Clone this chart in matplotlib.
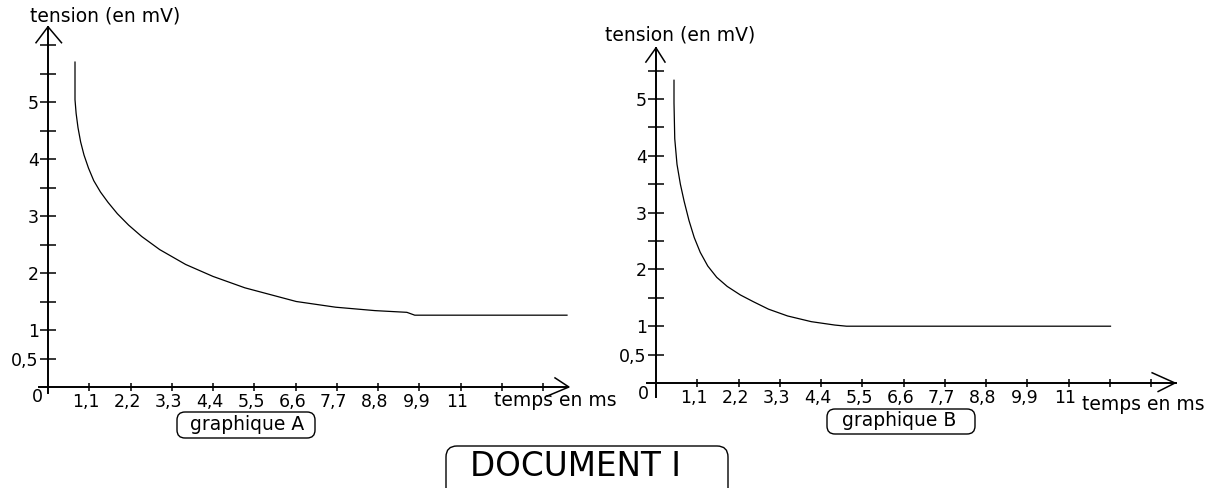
import matplotlib
matplotlib.use("Agg")
import matplotlib.pyplot as plt
from matplotlib.patches import FancyBboxPatch
from matplotlib.transforms import ScaledTranslation

temps_A = [0.72, 0.72, 0.75, 0.80, 0.87, 0.96, 1.08, 1.22, 1.40, 1.60, 1.85, 2.15,
           2.50, 2.98, 3.67, 4.40, 5.25, 6.62, 7.67, 8.72, 9.57, 9.78, 13.84]
tension_A = [5.70, 5.04, 4.80, 4.55, 4.30, 4.07, 3.84, 3.62, 3.42, 3.24, 3.04, 2.84,
             2.64, 2.41, 2.15, 1.94, 1.74, 1.50, 1.40, 1.34, 1.31, 1.26, 1.26]

temps_B = [0.48, 0.48, 0.50, 0.56, 0.65, 0.75, 0.88, 1.02, 1.18, 1.38, 1.62, 1.90,
           2.25, 2.60, 3.0, 3.51, 4.14, 4.77, 5.08, 12.12]
tension_B = [5.33, 4.93, 4.30, 3.85, 3.50, 3.20, 2.86, 2.56, 2.30, 2.06, 1.86, 1.70,
             1.55, 1.43, 1.30, 1.18, 1.08, 1.02, 1.00, 1.00]

ticks_x = [1.1, 2.2, 3.3, 4.4, 5.5, 6.6, 7.7, 8.8, 9.9, 11, 12.1, 13.2]
labels_x = ["1,1", "2,2", "3,3", "4,4", "5,5", "6,6", "7,7", "8,8", "9,9", "11", "", ""]
ticks_y = [0.5, 1, 2, 3, 4, 5]
labels_y = ["0,5", "1", "2", "3", "4", "5"]
ticks_y_min_A = [1.5, 2.5, 3.5, 4.5, 5.5, 6]
ticks_y_min_B = [1.5, 2.5, 3.5, 4.5, 5.5]

W, H = 1212, 488
fig = plt.figure(figsize=(W / 100, H / 100), dpi=100)


def fx(x):
    return x / W


def fy(y):
    return 1 - y / H


def panneau(x0, y0, sx, sy, ymin_ticks, ybas, xmin_axe):
    # axes transparents sur toute la figure, origine placée en pixels (x0, y0)
    ax = fig.add_axes([0, 0, 1, 1])
    ax.set_xlim(-x0 / sx, (W - x0) / sx)
    ax.set_ylim((y0 - H) / sy, y0 / sy)
    ax.patch.set_visible(False)
    for c in ["top", "right"]:
        ax.spines[c].set_visible(False)
    for c in ["left", "bottom"]:
        ax.spines[c].set_position(("data", 0))
        ax.spines[c].set_linewidth(1.4)
    ax.spines["bottom"].set_bounds(xmin_axe, 13.86)
    ax.spines["left"].set_bounds(ybas, 6.0)

    ax.set_xticks(ticks_x, labels_x)
    ax.set_yticks(ticks_y, labels_y)
    ax.set_yticks(ymin_ticks, minor=True)
    ax.tick_params(axis="x", direction="inout", length=5.5, width=1.1,
                   labelsize=12.5, pad=1.5)
    ax.tick_params(axis="y", which="both", direction="inout", length=11.5,
                   width=1.1, labelsize=12.5, pad=1)
    dx = ScaledTranslation(-3 / 100, 0, fig.dpi_scale_trans)
    for lab in ax.get_xticklabels():
        lab.set_transform(lab.get_transform() + dx)
    return ax


# ---- graphique A ----
axA = panneau(48, 387, 37.5, 57, ticks_y_min_A, -0.11, -0.24)
axA.plot(temps_A, tension_A, color="black", lw=0.9, clip_on=False)
axA.plot([0, 0], [6.0, 6.32], color="black", lw=1.4, clip_on=False)
axA.plot([-0.32, 0, 0.36], [6.04, 6.32, 6.04], color="black", lw=1.1, clip_on=False)
axA.plot([13.52, 13.89, 13.31], [0.16, 0, -0.16], color="black", lw=1.1, clip_on=False)

# ---- graphique B ----
axB = panneau(656, 383, 37.5, 56.8, ticks_y_min_B, -0.25, -0.24)
axB.spines["left"].set_bounds(-0.25, 5.9)
axB.plot(temps_B, tension_B, color="black", lw=0.9, clip_on=False)
axB.plot([-0.27, 0, 0.24], [5.65, 5.90, 5.65], color="black", lw=1.1, clip_on=False)
axB.plot([13.23, 13.84, 13.39], [0.18, 0, -0.15], color="black", lw=1.1, clip_on=False)

# ---- textes ----
txt = dict(fontsize=13.5, color="black")
fig.text(fx(30), fy(16), "tension (en mV)", ha="left", va="center", **txt)
fig.text(fx(605), fy(35), "tension (en mV)", ha="left", va="center", **txt)
fig.text(fx(494), fy(400), "temps en ms", ha="left", va="center", **txt)
fig.text(fx(1082), fy(405), "temps en ms", ha="left", va="center", **txt)
fig.text(fx(37), fy(397), "0", ha="center", va="center", fontsize=12.5)
fig.text(fx(643), fy(394), "0", ha="center", va="center", fontsize=12.5)


def cadre(x1, y1, x2, y2, r):
    p = FancyBboxPatch((fx(x1), fy(y2)), fx(x2 - x1), (y2 - y1) / H,
                       boxstyle="round,pad=0,rounding_size=%f" % fx(r),
                       transform=fig.transFigure, fill=False,
                       edgecolor="black", lw=1.0, mutation_aspect=W / H)
    fig.patches.append(p)


cadre(177, 412, 315, 438, 8)
fig.text(fx(247), fy(424), "graphique A", ha="center", va="center", **txt)
cadre(827, 409, 975, 434, 8)
fig.text(fx(899), fy(420), "graphique B", ha="center", va="center", **txt)
cadre(446, 446, 728, 500, 11)
fig.text(fx(575), fy(467), "DOCUMENT I", ha="center", va="center", fontsize=23.5)

fig.savefig("out.png", dpi=100)
